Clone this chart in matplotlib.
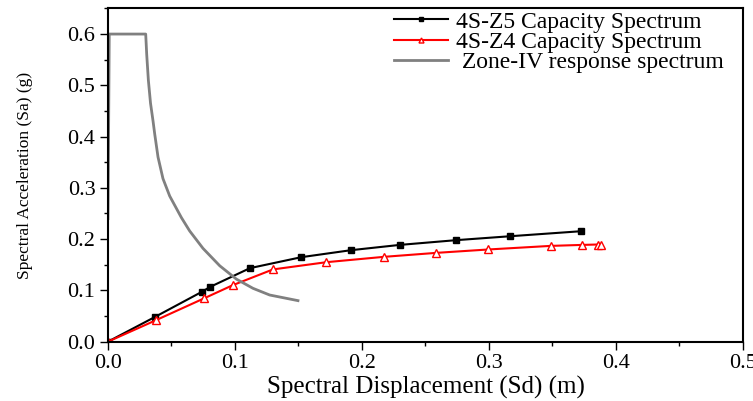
import numpy as np
import matplotlib.pyplot as plt
from matplotlib.ticker import MultipleLocator

plt.rcParams['font.family'] = ['Liberation Serif', 'DejaVu Serif']

# 4S-Z5 capacity spectrum
sd_z5 = [0.0, 0.0373, 0.0740, 0.0806, 0.1118, 0.1523, 0.1913, 0.2297, 0.2738, 0.3165, 0.3724]
sa_z5 = [0.0, 0.0486, 0.0973, 0.1070, 0.1434, 0.1648, 0.1784, 0.1887, 0.1979, 0.2056, 0.2154]

# 4S-Z4 capacity spectrum
sd_z4 = [0.0, 0.0381, 0.0756, 0.0984, 0.1299, 0.1720, 0.2171, 0.2586, 0.2995, 0.3486, 0.3732, 0.3856, 0.3885]
sa_z4 = [0.0, 0.0422, 0.0844, 0.1103, 0.1409, 0.1550, 0.1654, 0.1732, 0.1798, 0.1868, 0.1887, 0.1895, 0.1881]

# Zone-IV response spectrum
sd_rs = [0.0, 0.001, 0.0297, 0.0305, 0.0318, 0.0335, 0.0355, 0.0368, 0.0394, 0.0433,
         0.0486, 0.0578, 0.0643, 0.0748, 0.0880, 0.1011, 0.1142, 0.1273, 0.1496]
sa_rs = [0.24, 0.60, 0.60, 0.560, 0.510, 0.465, 0.430, 0.405, 0.360, 0.318,
         0.284, 0.242, 0.216, 0.182, 0.148, 0.122, 0.104, 0.091, 0.080]

fig = plt.figure(figsize=(7.53, 4.01), dpi=100)
ax = fig.add_axes([0.1434, 0.148, 0.8433, 0.831])

ax.plot(sd_z5, sa_z5, color='black', lw=1.5, marker='s', ms=5,
        label='4S-Z5 Capacity Spectrum')
ax.plot(sd_z4, sa_z4, color='red', lw=1.5, marker='^', ms=6, mfc='white', mec='red', mew=1,
        label='4S-Z4 Capacity Spectrum')
ax.plot(sd_rs, sa_rs, color='#808080', lw=2, label=' Zone-IV response spectrum')

ax.set_xlim(0, 0.5)
ax.set_ylim(0, 0.65)
ax.xaxis.set_major_locator(MultipleLocator(0.1))
ax.xaxis.set_minor_locator(MultipleLocator(0.05))
ax.yaxis.set_major_locator(MultipleLocator(0.1))
ax.yaxis.set_minor_locator(MultipleLocator(0.05))
ax.xaxis.set_major_formatter(plt.FormatStrFormatter('%.1f'))
ax.yaxis.set_major_formatter(plt.FormatStrFormatter('%.1f'))
ax.tick_params(which='major', direction='out', length=6, width=1, labelsize=16, pad=3)
ax.tick_params(which='minor', direction='out', length=3, width=1)
for s in ax.spines.values():
    s.set_linewidth(1.5)

ax.set_xlabel('Spectral Displacement (Sd) (m)', fontsize=18, labelpad=2)
ax.set_ylabel('Spectral Acceleration (Sa) (g)', fontsize=12.5, labelpad=25)

ax.legend(loc='upper right', frameon=False, fontsize=17, handlelength=2.3,
          handletextpad=0.35, labelspacing=-0.05, borderaxespad=0.0, markerscale=0.6,
          bbox_to_anchor=(0.985, 1.02))

fig.savefig('out.png', dpi=100)
